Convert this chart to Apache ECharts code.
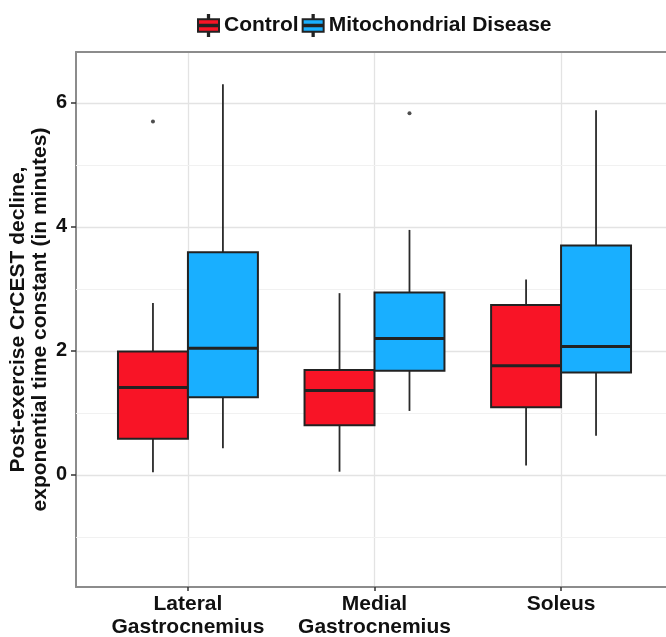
<!DOCTYPE html>
<html>
<head>
<meta charset="utf-8">
<script src="https://cdn.jsdelivr.net/npm/echarts@6/dist/echarts.min.js"></script>
<style>
  html, body { margin: 0; padding: 0; background: #fff; overflow: hidden; }
  #chart { width: 666px; height: 637px; }
</style>
</head>
<body>
<div id="chart"></div>
<script>
// categories on the x axis
var categories = ['Lateral\nGastrocnemius', 'Medial\nGastrocnemius', 'Soleus'];

// [min, Q1, median, Q3, max] per category
var controlStats = [
  [0.04, 0.58, 1.41, 1.99, 2.77],
  [0.05, 0.80, 1.36, 1.69, 2.93],
  [0.15, 1.09, 1.76, 2.74, 3.15]
];
var diseaseStats = [
  [0.43, 1.25, 2.04, 3.59, 6.30],
  [1.03, 1.68, 2.20, 2.94, 3.95],
  [0.63, 1.65, 2.07, 3.70, 5.88]
];

// outliers: [category index, value]
var controlOutliers = [[0, 5.70]];
var diseaseOutliers = [[1, 5.83]];

// tick values
var yMajorTicks = [0, 2, 4, 6];
var yMinorTicks = [-1, 1, 3, 5];
var xTicks = [1, 2, 3];

var font = 'Liberation Sans, Arial, Helvetica, sans-serif';
var dodge = 0.1875;   // half of dodge width 0.75
var boxW = 0.375;
var borderLine = { show: true, onZero: false, lineStyle: { color: '#8c8c8c', width: 2 } };
// legend key like ggplot: box split by median, small whisker stubs
var keyIcon = 'path://M9.4,0L10.6,0L10.6,4L9.4,4Z M0,4L20,4L20,9.4L0,9.4Z M0,10.6L20,10.6L20,16L0,16Z M9.4,16L10.6,16L10.6,20L9.4,20Z';

// one boxplot group drawn with custom series (ggplot style: no whisker caps)
function boxSeries(name, stats, color, offset) {
  return {
    name: name,
    type: 'custom',
    z: 3,
    itemStyle: { color: color, borderColor: '#222', borderWidth: 1.2 },
    encode: { x: 0, y: [1, 2, 3, 4, 5] },
    data: stats.map(function (s, i) { return [i + 1].concat(s); }),
    renderItem: function (params, api) {
      var x = api.value(0) + offset;
      var pMin = api.coord([x, api.value(1)]);
      var pQ1 = api.coord([x, api.value(2)]);
      var pMed = api.coord([x, api.value(3)]);
      var pQ3 = api.coord([x, api.value(4)]);
      var pMax = api.coord([x, api.value(5)]);
      var w = api.size([boxW, 0])[0];
      var lineStyle = { stroke: '#2a2a2a', lineWidth: 1.8 };
      return {
        type: 'group',
        children: [
          { type: 'line', shape: { x1: pMax[0], y1: pMax[1], x2: pQ3[0], y2: pQ3[1] }, style: lineStyle },
          { type: 'line', shape: { x1: pQ1[0], y1: pQ1[1], x2: pMin[0], y2: pMin[1] }, style: lineStyle },
          {
            type: 'rect',
            shape: { x: pQ3[0] - w / 2, y: pQ3[1], width: w, height: pQ1[1] - pQ3[1] },
            style: { fill: color, stroke: '#222', lineWidth: 2 }
          },
          {
            type: 'line',
            shape: { x1: pMed[0] - w / 2, y1: pMed[1], x2: pMed[0] + w / 2, y2: pMed[1] },
            style: { stroke: '#222', lineWidth: 3 }
          }
        ]
      };
    }
  };
}

function outlierSeries(name, pts, offset) {
  return {
    name: name,
    type: 'scatter',
    z: 3,
    symbol: 'circle',
    symbolSize: 4,
    itemStyle: { color: '#222' },
    data: pts.map(function (p) { return [p[0] + 1 + offset, p[1]]; })
  };
}

var chart = echarts.init(document.getElementById('chart'));

var option = {
  animation: false,
  backgroundColor: '#fff',
  textStyle: { fontFamily: font },
  legend: {
    left: 192,
    top: 9,
    itemWidth: 21,
    itemHeight: 21,
    itemGap: 3,
    data: [
      { name: 'Control', icon: keyIcon },
      { name: 'Mitochondrial Disease', icon: keyIcon }
    ],
    textStyle: { fontFamily: font, fontSize: 21, fontWeight: 'bold', color: '#111' }
  },
  grid: {
    left: 76,
    top: 52,
    width: 597,
    height: 535,
    outerBoundsMode: 'none',
    containLabel: false,
    show: false
  },
  xAxis: [
    {
      type: 'value',
      min: 0.4,
      max: 3.6,
      position: 'bottom',
      axisLine: borderLine,
      axisTick: { show: true, customValues: xTicks, length: 4, lineStyle: { color: '#333', width: 1.5 } },
      axisLabel: {
        customValues: xTicks,
        formatter: function (v) { return categories[Math.round(v) - 1]; },
        margin: 6,
        fontFamily: font,
        fontSize: 21,
        fontWeight: 'bold',
        color: '#111',
        lineHeight: 23
      },
      splitLine: { show: true, lineStyle: { color: '#e3e3e3', width: 1.3 } }
    },
    {
      // top panel border only
      type: 'value',
      min: 0.4,
      max: 3.6,
      position: 'top',
      axisLine: borderLine,
      axisTick: { show: false },
      axisLabel: { show: false },
      splitLine: { show: false }
    }
  ],
  yAxis: {
    type: 'value',
    min: -1.81,
    max: 6.82,
    position: 'left',
    name: 'Post-exercise CrCEST decline,\nexponential time constant (in minutes)',
    nameLocation: 'middle',
    nameRotate: 90,
    nameGap: 25,
    nameMoveOverlap: false,
    nameTextStyle: { fontFamily: font, fontSize: 21, fontWeight: 'bold', color: '#111', lineHeight: 22 },
    axisLine: borderLine,
    axisTick: { show: true, customValues: yMajorTicks, length: 5, lineStyle: { color: '#333', width: 1.5 } },
    axisLabel: {
      customValues: yMajorTicks,
      margin: 9,
      fontFamily: font,
      fontSize: 20,
      fontWeight: 'bold',
      color: '#111'
    },
    splitLine: { show: true, lineStyle: { color: '#e3e3e3', width: 1.3 } }
  },
  series: [
    {
      // minor grid lines
      name: 'minor grid',
      type: 'line',
      z: 1,
      data: [],
      markLine: {
        silent: true,
        z: 1,
        symbol: 'none',
        label: { show: false },
        lineStyle: { color: '#f1f1f1', width: 1, type: 'solid' },
        data: yMinorTicks.map(function (v) { return { yAxis: v }; })
      }
    },
    boxSeries('Control', controlStats, '#F81426', -dodge),
    boxSeries('Mitochondrial Disease', diseaseStats, '#19AFFF', dodge),
    outlierSeries('Control outliers', controlOutliers, -dodge),
    outlierSeries('Disease outliers', diseaseOutliers, dodge)
  ]
};

chart.setOption(option);
</script>
</body>
</html>
